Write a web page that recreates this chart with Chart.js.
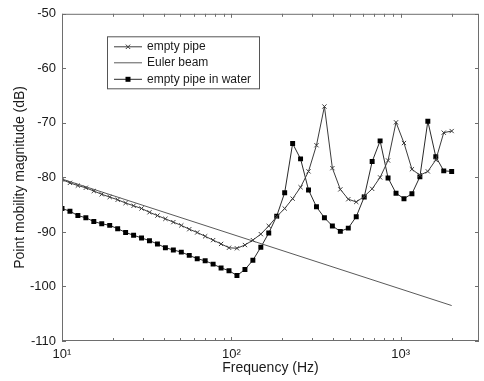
<!DOCTYPE html>
<html>
<head>
<meta charset="utf-8">
<script src="https://cdn.jsdelivr.net/npm/chart.js@4.4.0/dist/chart.umd.min.js"></script>
<style>
  html, body { margin: 0; padding: 0; background: #fff; }
  #wrap { width: 484px; height: 381px; }
</style>
</head>
<body>
<div id="wrap"><canvas id="mobilityGraph" width="484" height="381"></canvas></div>
<script>
// frequency points (Hz), log spaced 10 .. 2000
const freqs = [
  10.0, 11.14, 12.41, 13.83, 15.41, 17.17, 19.13, 21.32, 23.75, 26.47,
  29.49, 32.85, 36.61, 40.79, 45.45, 50.64, 56.42, 62.87, 70.05, 78.05,
  86.96, 96.86, 107.9, 120.3, 134.0, 149.3, 166.3, 185.3, 206.5, 230.1,
  256.3, 285.6, 318.2, 354.5, 395.0, 440.1, 490.4, 546.4, 608.8, 678.4,
  755.9, 842.2, 938.4, 1045.6, 1165.0, 1298.1, 1446.3, 1611.5, 1795.6, 2000.0
];

const emptyPipe = [
  -80.4, -81.0, -81.5, -81.9, -82.5, -83.1, -83.6, -84.1, -84.7, -85.2,
  -85.7, -86.4, -87.0, -87.6, -88.2, -88.8, -89.5, -90.1, -90.8, -91.5,
  -92.2, -92.9, -93.0, -92.4, -91.5, -90.4, -88.9, -87.2, -85.7, -83.9,
  -81.8, -78.9, -74.1, -67.0, -78.3, -82.2, -84.0, -84.5, -83.5, -82.1,
  -80.0, -76.9, -69.9, -73.7, -78.5, -79.6, -78.9, -76.8, -71.8, -71.5
];

const pipeInWater = [
  -85.7, -86.2, -87.0, -87.4, -88.1, -88.5, -88.8, -89.4, -90.1, -90.6,
  -91.1, -91.6, -92.2, -92.9, -93.3, -93.7, -94.3, -94.9, -95.3, -95.9,
  -96.6, -97.1, -98.0, -96.9, -95.2, -92.8, -90.2, -87.1, -82.8, -73.8,
  -76.6, -82.3, -85.4, -87.4, -88.9, -89.9, -89.3, -87.2, -83.6, -77.1,
  -73.3, -80.1, -82.9, -83.9, -83.0, -79.9, -69.7, -76.2, -78.8, -78.9
];

// Euler beam is a straight line on the log axis
const eulerFreqs = [10, 2000];
const eulerBeam = [-80.3, -103.5];

const labels = ['empty pipe', 'Euler beam', 'empty pipe in water'];
const xTickLabels = { 10: '10\u00B9', 100: '10\u00B2', 1000: '10\u00B3' };

const pts = (xs, ys) => xs.map((f, i) => ({ x: f, y: ys[i] }));

Chart.defaults.font.family = '"Liberation Sans", Arial, Helvetica, sans-serif';
Chart.defaults.font.size = 12;
Chart.defaults.color = '#1a1a1a';

function isNiceLogValue(v) {
  const e = Math.pow(10, Math.floor(Math.log10(v) + 1e-9));
  const m = v / e;
  return Math.abs(m - Math.round(m)) < 1e-6;
}

// box around the plot plus inward tick marks (matlab style)
const frameTicks = {
  id: 'frameTicks',
  afterDraw(chart) {
    const { ctx, chartArea: a, scales: { x, y } } = chart;
    ctx.save();
    ctx.strokeStyle = '#6e6e6e';
    ctx.lineWidth = 1;
    ctx.strokeRect(a.left + 0.5, a.top + 0.5, a.right - a.left - 1, a.bottom - a.top - 1);
    ctx.beginPath();
    x.ticks.forEach(t => {
      const px = Math.round(x.getPixelForValue(t.value)) + 0.5;
      const len = xTickLabels[Math.round(t.value)] ? 4 : 3;
      ctx.moveTo(px, a.bottom); ctx.lineTo(px, a.bottom - len);
      ctx.moveTo(px, a.top); ctx.lineTo(px, a.top + len);
    });
    y.ticks.forEach(t => {
      const py = Math.round(y.getPixelForValue(t.value)) + 0.5;
      ctx.moveTo(a.left, py); ctx.lineTo(a.left + 4, py);
      ctx.moveTo(a.right, py); ctx.lineTo(a.right - 4, py);
    });
    ctx.stroke();
    ctx.restore();
  }
};

// legend box inside the axes, top left
const boxLegend = {
  id: 'boxLegend',
  afterDatasetsDraw(chart) {
    const { ctx, chartArea: a } = chart;
    const left = a.left + 45, top = a.top + 22.5, w = 152, h = 52;
    ctx.save();
    ctx.fillStyle = '#fff';
    ctx.fillRect(left, top, w, h);
    ctx.strokeStyle = '#555';
    ctx.lineWidth = 1;
    ctx.strokeRect(left + 0.5, top + 0.5, w, h);
    const rows = [10.5, 26.5, 43];
    chart.data.datasets.forEach((ds, i) => {
      const yy = top + rows[i];
      ctx.strokeStyle = ds.borderColor;
      ctx.lineWidth = 1;
      ctx.beginPath();
      ctx.moveTo(left + 7, yy); ctx.lineTo(left + 35, yy);
      ctx.stroke();
      const cx = left + 21;
      if (ds.pointStyle === 'crossRot') {
        ctx.beginPath();
        ctx.moveTo(cx - 2.2, yy - 2.2); ctx.lineTo(cx + 2.2, yy + 2.2);
        ctx.moveTo(cx - 2.2, yy + 2.2); ctx.lineTo(cx + 2.2, yy - 2.2);
        ctx.stroke();
      } else if (ds.pointStyle === 'rect') {
        ctx.fillStyle = '#000';
        ctx.fillRect(cx - 2.5, yy - 2.5, 5, 5);
      }
      ctx.fillStyle = '#1a1a1a';
      ctx.textBaseline = 'middle';
      ctx.textAlign = 'left';
      ctx.font = '12px "Liberation Sans", Arial, sans-serif';
      ctx.fillText(ds.label, left + 40, yy);
    });
    ctx.restore();
  }
};

const ctx = document.getElementById('mobilityGraph').getContext('2d');
const graph = new Chart(ctx, {
  type: 'line',
  data: {
    datasets: [
      {
        label: labels[0],
        data: pts(freqs, emptyPipe),
        borderColor: '#3c3c3c',
        borderWidth: 1,
        pointStyle: 'crossRot',
        pointRadius: 3,
        pointBorderColor: '#3c3c3c',
        pointBorderWidth: 1,
        tension: 0
      },
      {
        label: labels[1],
        data: pts(eulerFreqs, eulerBeam),
        borderColor: '#5a5a5a',
        borderWidth: 1,
        pointRadius: 0,
        pointStyle: false,
        tension: 0
      },
      {
        label: labels[2],
        data: pts(freqs, pipeInWater),
        borderColor: '#2a2a2a',
        borderWidth: 1,
        pointStyle: 'rect',
        pointRadius: 3.5,
        pointBackgroundColor: '#000',
        pointBorderColor: '#000',
        pointBorderWidth: 0,
        tension: 0
      }
    ]
  },
  options: {
    responsive: false,
    animation: false,
    devicePixelRatio: 1,
    layout: { padding: { top: 9, right: 1, bottom: 0, left: 0 } },
    plugins: {
      legend: { display: false },
      tooltip: { enabled: false }
    },
    scales: {
      x: {
        type: 'logarithmic',
        min: 10,
        max: 2900,
        grid: { display: false, drawTicks: false },
        border: { display: false },
        afterBuildTicks: s => { s.ticks = s.ticks.filter(t => isNiceLogValue(t.value)); },
        afterFit: s => { s.height = 40; },
        ticks: {
          autoSkip: false,
          maxRotation: 0,
          padding: 6,
          font: { size: 13 },
          callback: v => xTickLabels[Math.round(v)] || ''
        },
        title: {
          display: true,
          text: 'Frequency (Hz)',
          font: { size: 14 },
          padding: { top: 0, bottom: 4 }
        }
      },
      y: {
        min: -110,
        max: -50,
        grid: { display: false, drawTicks: false },
        border: { display: false },
        afterFit: s => { s.width = 62; },
        ticks: { stepSize: 10, padding: 6, font: { size: 13 }, callback: v => String(v) },
        title: {
          display: true,
          text: 'Point mobility magnitude (dB)',
          font: { size: 14 },
          padding: { top: 12, bottom: 0 }
        }
      }
    }
  },
  plugins: [frameTicks, boxLegend]
});
</script>
</body>
</html>
